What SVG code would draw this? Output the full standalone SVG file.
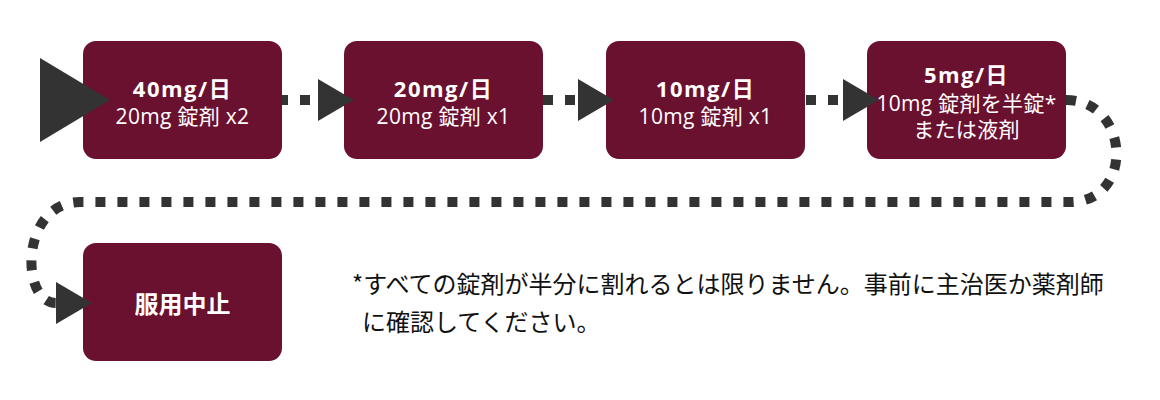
<svg xmlns="http://www.w3.org/2000/svg" width="1160" height="400" viewBox="0 0 1160 400">
<style>
.box{fill:#6b1130;}
.t{font-family:"Open Sans","Noto Sans CJK JP",sans-serif;fill:#ffffff;text-anchor:middle;}
.b{font-weight:bold;font-size:22px;letter-spacing:1.5px;}
.r{font-size:21px;letter-spacing:0.3px;}
.c{fill:none;stroke:#333333;stroke-width:10;stroke-dasharray:10 12;}
.ah{fill:#333333;}
.note{font-family:"Noto Sans CJK JP",sans-serif;font-size:24px;fill:#111111;}
</style>
<defs>
<marker id="arr" markerUnits="userSpaceOnUse" markerWidth="36" markerHeight="42" refX="0" refY="20.5" orient="auto" viewBox="0 0 35 41">
<polygon class="ah" points="0,0 35,20.5 0,41"/>
</marker>
</defs>
<rect width="1160" height="400" fill="#ffffff"/>
<g id="node1">
<rect class="box" x="83" y="41" width="199" height="118" rx="13"/>
<text class="t b" x="182.5" y="97">40mg/日</text>
<text class="t r" x="182.5" y="124">20mg 錠剤 x2</text>
</g>
<g id="node2">
<rect class="box" x="344" y="41" width="199" height="118" rx="13"/>
<text class="t b" x="443.5" y="97">20mg/日</text>
<text class="t r" x="443.5" y="124">20mg 錠剤 x1</text>
</g>
<g id="node3">
<rect class="box" x="606" y="41" width="199" height="118" rx="13"/>
<text class="t b" x="705.5" y="97">10mg/日</text>
<text class="t r" x="705.5" y="124">10mg 錠剤 x1</text>
</g>
<g id="node4">
<rect class="box" x="867" y="41" width="199" height="118" rx="13"/>
<text class="t b" x="966.5" y="83">5mg/日</text>
<text class="t r" x="966.5" y="111">10mg 錠剤を半錠*</text>
<text class="t r" x="966.5" y="137">または液剤</text>
</g>
<g id="node5">
<rect class="box" x="83" y="243" width="199" height="118" rx="13"/>
<text class="t" x="182.5" y="313" style="font-weight:bold;font-size:24px;">服用中止</text>
</g>
<g id="connectors">
<polygon class="ah" points="40,58 110,100 40,142"/>
<path class="c" d="M282 100 L318 100" stroke-dashoffset="4" marker-end="url(#arr)"/>
<path class="c" d="M543 100 L578 100" marker-end="url(#arr)"/>
<path class="c" d="M806 100 L843 100" marker-end="url(#arr)"/>
<path class="c" d="M1066 100 C1130 100 1135 202 1070 202 L80 202 C20 202 20 303 56 303" marker-end="url(#arr)"/>
</g>
<g id="footnote">
<text class="note" x="352" y="293">*すべての錠剤が半分に割れるとは限りません。事前に主治医か薬剤師</text>
<text class="note" x="362" y="331">に確認してください。</text>
</g>
</svg>
